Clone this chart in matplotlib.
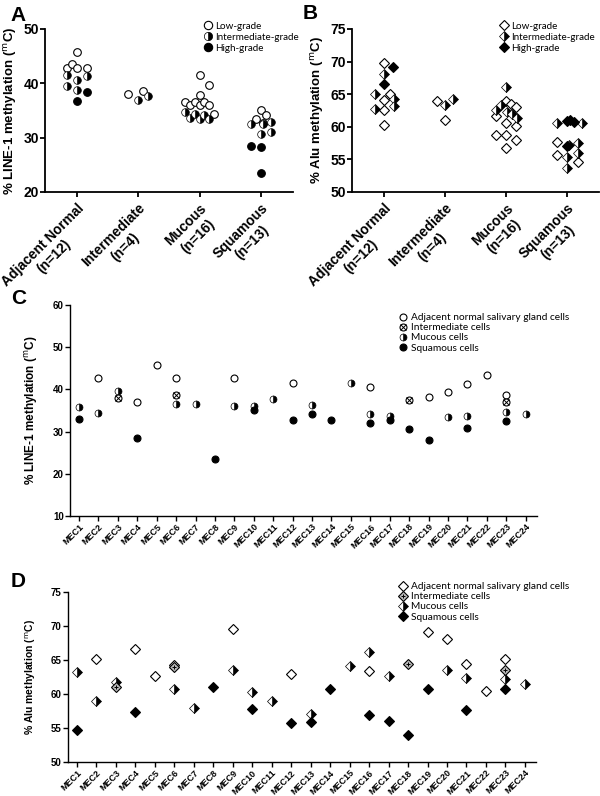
import matplotlib
matplotlib.use("Agg")
import matplotlib.pyplot as plt
from matplotlib.lines import Line2D

plt.rcParams["font.family"] = ["Liberation Sans", "DejaVu Sans"]

# ---------------------------------------------------------------------------
# Panel A / B: groups, values per grade, jitter slot (column inside a group)
# ---------------------------------------------------------------------------
GROUPS = ["Adjacent Normal\n(n=12)", "Intermediate\n(n=4)",
          "Mucous\n(n=16)", "Squamous\n(n=13)"]
GRADES = ["Low-grade", "Intermediate-grade", "High-grade"]

A_LOW_Y = [[42.9, 43.5, 45.7, 42.9, 42.9], [38.1, 38.6],
           [36.6, 36.0, 36.5, 37.9, 41.5, 36.0, 36.6, 39.6, 36.1, 34.4],
           [35.1, 34.2, 33.4, 32.7]]
A_LOW_SLOT = [[-2, -1, 0, 0, 2], [-2, 1],
              [-3, -2, -1, 0, 0, 0, 1, 2, 2, 3], [0, 1, -1, 0.5]]
A_MID_Y = [[41.6, 40.6, 41.3, 39.5, 38.8], [36.9, 37.6],
           [34.7, 33.7, 34.4, 33.5, 34.2, 33.5],
           [32.5, 32.6, 32.9, 30.7, 31.0]]
A_MID_SLOT = [[-2, 0, 2, -2, 0], [0, 2], [-3, -2, -1, 0, 1, 2],
              [-2, 0.5, 2, 0, 2]]
A_HIGH_Y = [[36.8, 38.4], [], [], [28.4, 28.2, 23.5]]
A_HIGH_SLOT = [[0, 2], [], [], [-2, 0, 0]]

B_LOW_Y = [[69.8, 65.1, 64.1, 62.5, 60.3], [64.0, 61.0],
           [64.0, 63.5, 63.1, 61.6, 60.6, 60.1, 58.7, 58.7, 57.9, 56.8],
           [57.7, 55.7, 54.6]]
B_LOW_SLOT = [[0, 1.2, 0, 0, 0], [-1.6, 0],
              [0, 1, 2, -2, 0, 2, -2, 0, 2, 0], [-2, -2, 2.3]]
B_MID_Y = [[68.1, 65.1, 64.3, 63.2, 62.8], [63.3, 64.2],
           [66.1, 63.4, 62.6, 62.2, 62.0, 61.4],
           [60.6, 60.6, 57.2, 57.5, 55.4, 56.0, 53.7]]
B_MID_SLOT = [[0, -1.8, 2, 2, -1.8], [0, 1.6], [0, -1, -2, 0.3, 1.3, 2.3],
              [-2, 3, 0.3, 2.3, 0, 2.3, 0]]
B_HIGH_Y = [[69.1, 66.5], [], [], [60.9, 61.0, 60.7, 57.0]]
B_HIGH_SLOT = [[1.8, 0], [], [], [0, 0.7, 1.4, 0]]

# ---------------------------------------------------------------------------
# Panel C / D: per-case values (MEC number, value)
# ---------------------------------------------------------------------------
CASES = [f"MEC{i}" for i in range(1, 25)]
CELLS = ["Adjacent normal salivary gland cells", "Intermediate cells",
         "Mucous cells", "Squamous cells"]

C_NORM_MEC = [2, 4, 5, 6, 9, 12, 16, 19, 20, 21, 22, 23]
C_NORM_Y = [42.8, 36.9, 45.7, 42.8, 42.8, 41.6, 40.6, 38.3, 39.4, 41.3, 43.4, 38.7]
C_INT_MEC = [3, 6, 18, 23]
C_INT_Y = [38.0, 38.6, 37.6, 36.9]
C_MUC_MEC = [1, 2, 3, 6, 7, 9, 10, 11, 13, 15, 16, 17, 20, 21, 23, 24]
C_MUC_Y = [35.9, 34.3, 39.7, 36.5, 36.5, 36.1, 36.0, 37.8, 36.3, 41.4, 34.2,
           33.7, 33.4, 33.6, 34.6, 34.1]
C_SQ_MEC = [1, 4, 8, 10, 12, 13, 14, 16, 17, 18, 19, 21, 23]
C_SQ_Y = [33.1, 28.4, 23.5, 35.0, 32.8, 34.1, 32.7, 32.1, 32.8, 30.7, 28.1,
          30.9, 32.4]

D_NORM_MEC = [2, 4, 5, 6, 9, 12, 16, 19, 20, 21, 22, 23]
D_NORM_Y = [65.2, 66.6, 62.6, 64.2, 69.6, 62.9, 63.4, 69.1, 68.1, 64.4, 60.5, 65.2]
D_INT_MEC = [3, 6, 18, 23]
D_INT_Y = [61.1, 64.0, 64.4, 63.5]
D_MUC_MEC = [1, 2, 3, 6, 7, 9, 10, 11, 13, 15, 16, 17, 20, 21, 23, 24]
D_MUC_Y = [63.3, 58.9, 61.8, 60.8, 58.0, 63.6, 60.3, 59.0, 57.1, 64.1, 66.2,
           62.7, 63.5, 62.3, 62.2, 61.5]
D_SQ_MEC = [1, 4, 8, 10, 12, 13, 14, 16, 17, 18, 19, 21, 23]
D_SQ_Y = [54.7, 57.3, 61.0, 57.8, 55.7, 55.9, 60.7, 56.9, 56.1, 53.9, 60.7,
          57.6, 60.7]

AXIS_FONT = ["Liberation Sans", "DejaVu Sans"]
LEGEND_FONT = ["Lato", "DejaVu Sans"]
YLAB_LINE = r"% LINE-1 methylation ($^{\mathrm{m}}$C)"
YLAB_ALU = r"% Alu methylation ($^{\mathrm{m}}$C)"


def style_open(marker, ms):
    return dict(marker=marker, ms=ms, ls="none", mfc="white", mec="black", mew=0.8)


def style_half(marker, ms):
    return dict(marker=marker, ms=ms, ls="none", fillstyle="right", mfc="black",
                mfcalt="white", mec="black", mew=0.5)


def style_full(marker, ms):
    return dict(marker=marker, ms=ms, ls="none", mfc="black", mec="black", mew=0.8)


def style_cross(marker, ms):
    return dict(marker=marker, ms=ms * 0.75, ls="none", mfc="none", mec="black", mew=0.7)


def setup_axes(ax, lw, ylim, yticks, ytick_fs):
    for side in ("top", "right"):
        ax.spines[side].set_visible(False)
    for side in ("left", "bottom"):
        ax.spines[side].set_linewidth(lw)
    ax.set_ylim(*ylim)
    ax.set_yticks(yticks, labels=[str(t) for t in yticks],
                  fontsize=ytick_fs, fontweight="bold")
    ax.tick_params(direction="out", length=3.5, width=lw, pad=1)


def plot_grades(ax, low_y, low_s, mid_y, mid_s, high_y, high_s, marker, ms, step):
    for gi in range(len(GROUPS)):
        ax.plot([gi + s * step for s in low_s[gi]], low_y[gi], **style_open(marker, ms))
        ax.plot([gi + s * step for s in mid_s[gi]], mid_y[gi], **style_half(marker, ms))
        ax.plot([gi + s * step for s in high_s[gi]], high_y[gi], **style_full(marker, ms))


def group_panel(fig, rect, low_y, low_s, mid_y, mid_s, high_y, high_s,
                marker, ms, ylim, yticks, ylabel, legend_xy):
    ax = fig.add_axes(rect)
    plot_grades(ax, low_y, low_s, mid_y, mid_s, high_y, high_s, marker, ms, 0.08)
    setup_axes(ax, 1.3, ylim, yticks, 10)
    ax.set_xlim(-0.52, 3.52)
    ax.set_xticks(range(len(GROUPS)))
    ax.set_xticklabels(GROUPS, rotation=45, ha="right", va="top",
                       rotation_mode="anchor", fontsize=10, fontweight="bold",
                       multialignment="center")
    ax.tick_params(axis="x", pad=3)
    ax.set_ylabel(ylabel, fontsize=9.5, fontweight="bold", labelpad=3)
    handles = [Line2D([], [], **style_open(marker, ms + 0.5)),
               Line2D([], [], **style_half(marker, ms + 0.5)),
               Line2D([], [], **style_full(marker, ms + 0.5))]
    fig.legend(handles, GRADES, loc="upper left", bbox_to_anchor=legend_xy,
               frameon=False, borderpad=0, handlelength=0.8, handletextpad=0.3,
               labelspacing=0.2, prop={"family": LEGEND_FONT, "size": 7.1})
    return ax


def case_panel(fig, rect, series, marker, ms, ylim, yticks, ylabel, ylabel_fs,
               legend_xy, cross, int_face):
    ax = fig.add_axes(rect)
    (nm, ny), (im, iy), (mm, my), (sm, sy) = series
    ax.plot([m - 1 for m in nm], ny, **style_open(marker, ms))
    ax.plot([m - 1 for m in mm], my, **style_half(marker, ms))
    ax.plot([m - 1 for m in sm], sy, **style_full(marker, ms))
    int_style = style_open(marker, ms)
    int_style["mfc"] = int_face
    ax.plot([m - 1 for m in im], iy, **int_style)
    ax.plot([m - 1 for m in im], iy, **style_cross(cross, ms))
    setup_axes(ax, 1.0, ylim, yticks, 7)
    ax.set_xlim(-0.46, 23.57)
    ax.set_xticks(range(len(CASES)))
    ax.set_xticklabels(CASES, rotation=45, ha="right", va="top",
                       rotation_mode="anchor", fontsize=6.5, fontweight="bold")
    ax.set_ylabel(ylabel, fontsize=ylabel_fs, fontweight="bold", labelpad=9)
    handles = [Line2D([], [], **style_open(marker, ms)),
               (Line2D([], [], **int_style), Line2D([], [], **style_cross(cross, ms))),
               Line2D([], [], **style_half(marker, ms)),
               Line2D([], [], **style_full(marker, ms))]
    fig.legend(handles, CELLS, loc="upper left", bbox_to_anchor=legend_xy,
               frameon=False, borderpad=0, handlelength=0.8, handletextpad=0.4,
               labelspacing=0.1, prop={"family": LEGEND_FONT, "size": 7.3})
    return ax


def main():
    fig = plt.figure(figsize=(6.0, 7.96), dpi=100)

    group_panel(fig, [0.075, 0.7588, 0.413, 0.2048],
                A_LOW_Y, A_LOW_SLOT, A_MID_Y, A_MID_SLOT, A_HIGH_Y, A_HIGH_SLOT,
                "o", 5.5, (20, 50), [20, 30, 40, 50], YLAB_LINE, (0.332, 0.979))
    group_panel(fig, [0.587, 0.7588, 0.411, 0.2048],
                B_LOW_Y, B_LOW_SLOT, B_MID_Y, B_MID_SLOT, B_HIGH_Y, B_HIGH_SLOT,
                "D", 4.6, (50, 75), list(range(50, 76, 5)), YLAB_ALU, (0.826, 0.979))

    case_panel(fig, [0.1167, 0.3518, 0.778, 0.265],
               [(C_NORM_MEC, C_NORM_Y), (C_INT_MEC, C_INT_Y),
                (C_MUC_MEC, C_MUC_Y), (C_SQ_MEC, C_SQ_Y)],
               "o", 5, (10, 60), list(range(10, 61, 10)), YLAB_LINE, 8.5,
               (0.657, 0.613), "x", "white")
    case_panel(fig, [0.1133, 0.0427, 0.780, 0.2136],
               [(D_NORM_MEC, D_NORM_Y), (D_INT_MEC, D_INT_Y),
                (D_MUC_MEC, D_MUC_Y), (D_SQ_MEC, D_SQ_Y)],
               "D", 4.6, (50, 75), list(range(50, 76, 5)), YLAB_ALU, 7.5,
               (0.657, 0.275), "+", "#bbbbbb")

    for letter, x, y in [("A", 0.018, 0.992), ("B", 0.505, 0.995),
                         ("C", 0.018, 0.637), ("D", 0.018, 0.282)]:
        fig.text(x, y, letter, fontsize=15, fontweight="bold", va="top",
                 family=AXIS_FONT)

    fig.savefig("out.png", dpi=100)
    plt.close(fig)


if __name__ == "__main__":
    main()
